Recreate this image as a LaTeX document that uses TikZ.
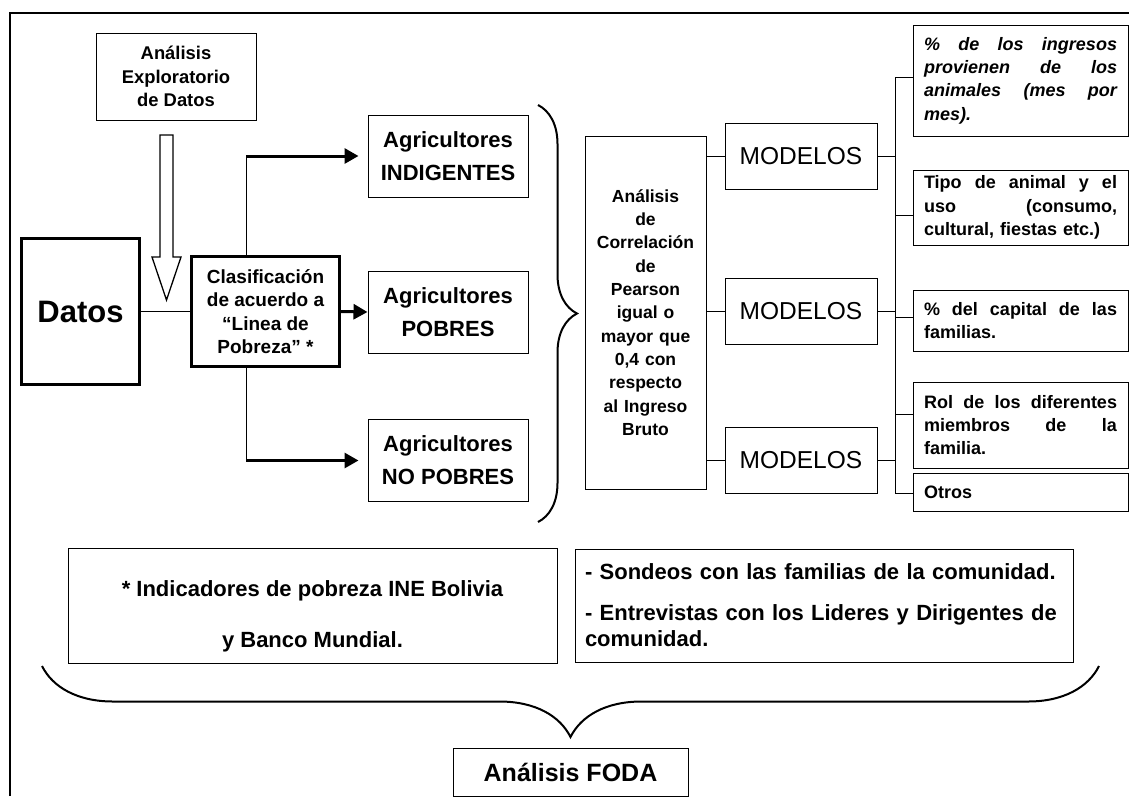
\documentclass[tikz,border=0pt]{standalone}
\usepackage{fontspec}
\setmainfont{Liberation Sans}
\usetikzlibrary{arrows.meta,decorations.pathreplacing}

\begin{document}
\begin{tikzpicture}[x=1pt, y=-1pt, line width=1pt,
  box/.style={draw, align=center, inner sep=3pt},
  heavy box/.style={draw, line width=2.5pt, align=center},
  note box/.style={draw, align=left, text width=193, inner xsep=11, inner ysep=3, minimum width=215, font=\bfseries\fontsize{18}{23.3}\selectfont},
  arr/.style={line width=3pt, -{Triangle[length=14pt,width=15pt]}},
  brace line/.style={line width=2pt, decorate, decoration={brace, amplitude=#1}}]
\useasboundingbox (0,0) rectangle (1129,796);
\draw[line width=2pt] (10,796) -- (10,13) -- (1129,13);

% left part
\node[box, minimum width=160, minimum height=87, font=\bfseries\fontsize{18.4}{23.3}\selectfont] (explor) at (176,76.5) {Análisis\\Exploratorio\\de Datos};
\node[heavy box, minimum width=118, minimum height=146, font=\bfseries\fontsize{31}{37}\selectfont] (datos) at (80.5,311.5) {Datos};
\node[heavy box, minimum width=148, minimum height=110, font=\bfseries\fontsize{19}{23.5}\selectfont] (clasif) at (265.5,311.5) {Clasificación\\de acuerdo a\\“Linea de\\Pobreza” *};
\begin{scope}[every node/.style={box, minimum width=160, minimum height=82, font=\bfseries\fontsize{22}{33}\selectfont}]
\node (ind) at (448,156) {Agricultores\\INDIGENTES};
\node (pob) at (448,312) {Agricultores\\POBRES};
\node (nopob) at (448,460.5) {Agricultores\\NO POBRES};
\end{scope}

% hollow arrow from the exploratory analysis
\draw[line width=1.3pt, fill=white] (160,135) -- (173,135) -- (173,257) -- (181,257) -- (166.5,300) -- (152,257) -- (160,257) -- cycle;

\coordinate (up) at (246,156);
\coordinate (dn) at (246,460.5);
\draw (datos) -- (clasif);
\draw (clasif.north -| up) -- (up);
\draw (clasif.south -| dn) -- (dn);
\draw[arr, shorten >=9pt] (up) -- (ind.west);
\draw[arr] (clasif.east) -- (pob.west);
\draw[arr, shorten >=9pt] (dn) -- (nopob.west);

% correlation and models
\coordinate (bt) at (538,105);
\coordinate (bb) at (538,522);
\draw[brace line=39] (bt) -- (bb);
\node[box, text width=115, minimum width=121, minimum height=353, font=\bfseries\fontsize{17.5}{23.3}\selectfont] (corr) at (645.5,312.5) {Análisis\\de\\Correlación\\de\\Pearson\\igual o\\mayor que\\0,4 con\\respecto\\al Ingreso\\Bruto};
\begin{scope}[every node/.style={box, minimum width=152, minimum height=66, font=\fontsize{24.5}{29}\selectfont}]
\node (mod1) at (801,156.5) {MODELOS};
\node (mod2) at (801,311) {MODELOS};
\node (mod3) at (801,460.5) {MODELOS};
\end{scope}
\foreach \m in {mod1,mod2,mod3}
  \draw (corr.east |- \m) -- (\m.west);

\node[note box, minimum height=111, font=\bfseries\itshape\fontsize{18}{23.3}\selectfont] (t1) at (1020.5,80.5) {\% \hfill de \hfill los \hfill ingresos\\provienen \hfill de \hfill los\\animales \hfill (mes \hfill por\\mes).};
\node[note box, minimum height=75] (t2) at (1020.5,207.5) {Tipo \hfill de \hfill animal \hfill y \hfill el\\uso \hfill (consumo,\\cultural, fiestas etc.)};
\node[note box, minimum height=61] (t3) at (1020.5,320.5) {\% \hfill del \hfill capital \hfill de \hfill las\\familias.};
\node[note box, minimum height=86] (t4) at (1020.5,425) {Rol \hfill de \hfill los \hfill diferentes\\miembros \hfill de \hfill la\\familia.};
\node[note box, minimum height=38] (t5) at (1020.5,492) {Otros};

\coordinate (j1) at (895,77);
\coordinate (j2) at (895,215);
\coordinate (j3) at (895,317);
\coordinate (j4) at (895,414);
\coordinate (j5) at (895,493);
\draw (j1) -- (j5);
\foreach \m in {mod1,mod2,mod3}
  \draw (\m.east) -- (\m.east -| j1);
\foreach \i in {1,...,5}
  \draw (j\i) -- (j\i -| t\i.west);

% bottom part
\node[box, minimum width=489, minimum height=115, text height=83, text depth=0, font=\bfseries\fontsize{22}{51}\selectfont] (pobreza) at (312.5,605.5) {* Indicadores de pobreza INE Bolivia\\y Banco Mundial.};
\node[box, align=left, text width=478, inner xsep=10, minimum width=498, minimum height=113, font=\bfseries\fontsize{22}{26}\selectfont] (sondeos) at (824,605.5) {- Sondeos con las familias de la comunidad.\\[15pt]- Entrevistas con los Lideres y Dirigentes de\\comunidad.};
\coordinate (br) at (1099,666);
\coordinate (bl) at (42,666);
\draw[brace line=71] (br) -- (bl);
\node[box, minimum width=235, minimum height=48, font=\bfseries\fontsize{25}{30}\selectfont] (foda) at (570.5,772) {Análisis FODA};
\end{tikzpicture}
\end{document}
